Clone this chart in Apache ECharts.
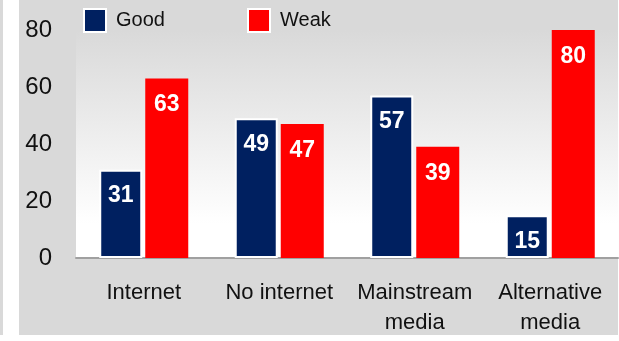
<!DOCTYPE html>
<html><head><meta charset="utf-8">
<script src="https://cdn.jsdelivr.net/npm/echarts@6/dist/echarts.min.js"></script>
<style>html,body{margin:0;padding:0;background:#fff}#c{width:619px;height:341px}</style>
</head><body><div id="c"></div>
<script>
const categories = ['Internet', 'No internet', 'Mainstream\nmedia', 'Alternative\nmedia'];
const goodValues = [31, 49, 57, 15];
const weakValues = [63, 47, 39, 80];
const yTicks = [0, 20, 40, 60, 80];

const chart = echarts.init(document.getElementById('c'));
const labelStyle = {
  show: true, position: 'insideTop', distance: 15,
  color: '#fff', fontFamily: 'Liberation Sans, Arial', fontWeight: 'bold', fontSize: 23
};
const legendText = {fontFamily: 'Liberation Sans, Arial', fontSize: 20, color: '#111', padding: [0, 0, 0, 5]};
chart.setOption({
  animation: false,
  backgroundColor: '#ffffff',
  graphic: [
    {type: 'rect', shape: {x: 0, y: 0, width: 3, height: 335}, style: {fill: '#d9d9d9'}, z: -10},
    {type: 'rect', shape: {x: 19, y: 0, width: 599, height: 335}, style: {fill: '#d9d9d9'}, z: -10}
  ],
  grid: {
    left: 76, right: 1, top: 30, bottom: 83, show: true, borderWidth: 0,
    backgroundColor: {type: 'linear', x: 0, y: 0, x2: 0, y2: 1,
      colorStops: [{offset: 0, color: '#d9d9d9'}, {offset: 0.85, color: '#ffffff'}, {offset: 1, color: '#ffffff'}]}
  },
  legend: [
    {data: ['Good'], left: 78, top: 3, itemWidth: 22, itemHeight: 23, icon: 'rect',
     textStyle: legendText, itemStyle: {borderColor: '#fff', borderWidth: 2}},
    {data: ['Weak'], left: 242, top: 3, itemWidth: 22, itemHeight: 23, icon: 'rect',
     textStyle: legendText, itemStyle: {borderColor: '#fff', borderWidth: 2}}
  ],
  xAxis: {
    type: 'category', data: categories,
    axisLine: {lineStyle: {color: '#a0a0a0', width: 2}},
    axisTick: {show: false},
    axisLabel: {fontFamily: 'Liberation Sans, Arial', fontSize: 22, color: '#111', lineHeight: 30, margin: 20, interval: 0}
  },
  yAxis: {
    type: 'value', min: yTicks[0], max: yTicks[yTicks.length - 1], interval: 20,
    splitLine: {show: false}, axisLine: {show: false}, axisTick: {show: false},
    axisLabel: {fontFamily: 'Liberation Sans, Arial', fontSize: 24, color: '#111', margin: 24}
  },
  series: [
    {name: 'Good', type: 'bar', data: goodValues, barWidth: 43, barGap: '7%',
     itemStyle: {color: '#002060', borderColor: '#ffffff', borderWidth: 2},
     label: labelStyle},
    {name: 'Weak', type: 'bar', data: weakValues, barWidth: 43,
     itemStyle: {color: '#ff0000'},
     label: labelStyle}
  ]
});
</script></body></html>
